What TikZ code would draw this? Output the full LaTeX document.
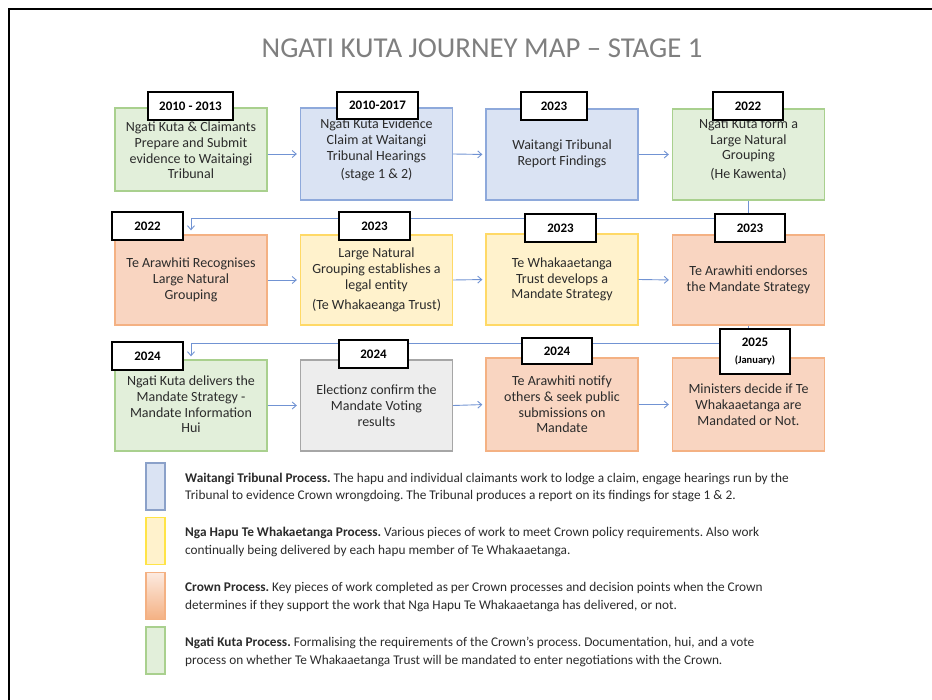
\documentclass[tikz,border=0pt]{standalone}
\usepackage{fontspec}
\setmainfont{Carlito}
\usetikzlibrary{arrows.meta}
\frenchspacing
\definecolor{gfill}{HTML}{E2EFDA}
\definecolor{gline}{HTML}{A9D08E}
\definecolor{bfill}{HTML}{DAE3F3}
\definecolor{bline}{HTML}{8EA9DB}
\definecolor{yfill}{HTML}{FFF2CC}
\definecolor{yline}{HTML}{FFD966}
\definecolor{ofill}{HTML}{F9D5C1}
\definecolor{oline}{HTML}{F4B183}
\definecolor{grfill}{HTML}{EDEDED}
\definecolor{grline}{HTML}{A6A6A6}
\definecolor{conncol}{HTML}{7193D3}
\definecolor{txt}{HTML}{2B2B2B}
\definecolor{titlecol}{HTML}{7F7F7F}
\begin{document}
\begin{tikzpicture}[x=1pt,y=1pt,
  mainbox/.style={rectangle, line width=1.3pt, inner sep=0pt, minimum width=152pt},
  boxtext/.style={align=center, text=txt, font=\fontsize{14}{15.7}\selectfont, inner sep=0pt},
  yr/.style={rectangle, draw=black, fill=white, line width=1.1pt, inner sep=0pt, align=center,
    font=\fontsize{13}{14}\selectfont\bfseries, text=black},
  conn/.style={draw=conncol, line width=0.9pt, -{Straight Barb[length=4pt,width=7pt]}},
  swatch/.style={rectangle, line width=1.2pt, inner sep=0pt, minimum width=19pt, minimum height=47pt},
  legtext/.style={anchor=west, align=left, text=txt, font=\fontsize{13.3}{17.5}\selectfont, inner sep=0pt}
]
\useasboundingbox (0,0) rectangle (932,-700);
% frame
\draw[line width=2.6pt, line cap=rect] (9,-701) -- (9,-9) -- (933,-9);
% title
\node[text=titlecol, font=\fontsize{28.8}{32}\selectfont, inner sep=0pt] (title) at (482,-48) {NGATI KUTA JOURNEY MAP -- STAGE 1};

% row 1
\node[mainbox, draw=gline, fill=gfill, minimum height=83pt] (b11) at (191,-149.5) {};
\node[mainbox, draw=bline, fill=bfill, minimum height=92pt] (b12) at (376.5,-154) {};
\node[mainbox, draw=bline, fill=bfill, minimum height=91pt] (b13) at (562,-154.5) {};
\node[mainbox, draw=gline, fill=gfill, minimum height=91pt] (b14) at (748.5,-154.5) {};
% row 2
\node[mainbox, draw=oline, fill=ofill, minimum height=90pt] (b21) at (191,-280) {};
\node[mainbox, draw=yline, fill=yfill, minimum height=90pt] (b22) at (376.5,-280) {};
\node[mainbox, draw=yline, fill=yfill, minimum height=91pt] (b23) at (562,-279.5) {};
\node[mainbox, draw=oline, fill=ofill, minimum height=90pt] (b24) at (748.5,-280) {};
% row 3
\node[mainbox, draw=gline, fill=gfill, minimum height=91pt] (b31) at (191,-405.5) {};
\node[mainbox, draw=grline, fill=grfill, minimum height=91pt] (b32) at (376.5,-405.5) {};
\node[mainbox, draw=oline, fill=ofill, minimum height=93pt] (b33) at (562,-404.5) {};
\node[mainbox, draw=oline, fill=ofill, minimum height=93pt] (b34) at (748.5,-404.5) {};

% texts
\node[boxtext] (t11) at ([yshift=-1pt]b11.center) {Ngati Kuta \& Claimants\\Prepare and Submit\\evidence to Waitaingi\\Tribunal};
\node[boxtext] (t12) at ([yshift=4pt]b12.center) {Ngati Kuta Evidence\\Claim at Waitangi\\Tribunal Hearings\\[3pt](stage 1 \& 2)};
\node[boxtext] (t13) at ([yshift=1pt]b13.center) {Waitangi Tribunal\\Report Findings};
\node[boxtext] (t14) at ([yshift=5pt]b14.center) {Ngati Kuta form a\\Large Natural\\Grouping\\[3pt](He Kawenta)};
\node[boxtext] (t21) at (b21.center) {Te Arawhiti Recognises\\Large Natural\\Grouping};
\node[boxtext] (t22) at (b22.center) {Large Natural\\Grouping establishes a\\legal entity\\[5pt](Te Whakaeanga Trust)};
\node[boxtext] (t23) at (b23.center) {Te Whakaaetanga\\Trust develops a\\Mandate Strategy};
\node[boxtext] (t24) at (b24.center) {Te Arawhiti endorses\\the Mandate Strategy};
\node[boxtext] (t31) at ([yshift=1pt]b31.center) {Ngati Kuta delivers the\\Mandate Strategy -\\Mandate Information\\Hui};
\node[boxtext] (t32) at (b32.center) {Electionz confirm the\\Mandate Voting\\results};
\node[boxtext] (t33) at (b33.center) {Te Arawhiti notify\\others \& seek public\\submissions on\\Mandate};
\node[boxtext] (t34) at (b34.center) {Ministers decide if Te\\Whakaaetanga are\\Mandated or Not.};

% connectors in rows
\draw[conn, shorten >=3pt] (b11.east |- b12.west) -- (b12.west);
\draw[conn, shorten >=3pt] (b12.east) -- (b13.west);
\draw[conn, shorten >=3pt] (b13.east) -- (b14.west);
\draw[conn, shorten >=3pt] (b21.east) -- (b22.west);
\draw[conn, shorten >=3pt] (b22.east) -- (b23.west);
\draw[conn, shorten >=3pt] (b23.east) -- (b24.west);
\draw[conn, shorten >=3pt] (b31.east) -- (b32.west);
\draw[conn, shorten >=3pt] (b32.east) -- (b33.west);
\draw[conn, shorten >=3pt] (b33.east) -- (b34.west);
% row transitions
\coordinate (j1) at (748.5,-218);
\coordinate (j2) at (748.5,-343);
\draw[conn, shorten >=4pt] (b14.south) -- (j1) -| (b21.north);
\draw[conn, shorten >=3pt] (b24.south) -- (j2) -| (b31.north);

% year boxes
\node[yr, minimum width=85pt, minimum height=28pt] (y11) at (190.5,-106) {2010 - 2013};
\node[yr, minimum width=81pt, minimum height=27pt] (y12) at (377.5,-105.5) {2010-2017};
\node[yr, minimum width=66pt, minimum height=28pt] (y13) at (554,-106) {2023};
\node[yr, minimum width=70pt, minimum height=28pt] (y14) at (748,-106) {2022};
\node[yr, minimum width=71pt, minimum height=28pt] (y21) at (147.5,-226) {2022};
\node[yr, minimum width=71pt, minimum height=28pt] (y22) at (374.5,-226) {2023};
\node[yr, minimum width=71pt, minimum height=28pt] (y23) at (560.5,-228) {2023};
\node[yr, minimum width=70pt, minimum height=28pt] (y24) at (750,-228) {2023};
\node[yr, minimum width=71pt, minimum height=28pt] (y31) at (147.5,-356) {2024};
\node[yr, minimum width=69pt, minimum height=28pt] (y32) at (373.5,-354) {2024};
\node[yr, minimum width=70pt, minimum height=26pt] (y33) at (557,-351) {2024};
\node[yr, minimum width=70pt, minimum height=45pt, font=\fontsize{13}{17}\selectfont\bfseries] (y34) at (755,-351.5) {2025\\{\fontsize{10.5}{12}\selectfont(January)}};

% legend
\node[swatch, draw=bline!80!gray, fill=bfill] (s1) at (155.5,-486.5) {};
\node[swatch, draw=yline!70!yellow, fill=yfill] (s2) at (155.5,-541) {};
\node[swatch, draw=oline, top color=ofill!50!white, bottom color=oline] (s3) at (155.5,-596) {};
\node[swatch, draw=gline, fill=gfill] (s4) at (155.5,-650.5) {};
\node[legtext] (l1) at (185,-487.5) {\textbf{Waitangi Tribunal Process.} The hapu and individual claimants work to lodge a claim, engage hearings run by the\\Tribunal to evidence Crown wrongdoing. The Tribunal produces a report on its findings for stage 1 \& 2.};
\node[legtext] (l2) at (185,-542) {\textbf{Nga Hapu Te Whakaetanga Process.} Various pieces of work to meet Crown policy requirements. Also work\\continually being delivered by each hapu member of Te Whakaaetanga.};
\node[legtext] (l3) at (185,-597) {\textbf{Crown Process.} Key pieces of work completed as per Crown processes and decision points when the Crown\\determines if they support the work that Nga Hapu Te Whakaaetanga has delivered, or not.};
\node[legtext] (l4) at (185,-652) {\textbf{Ngati Kuta Process.} Formalising the requirements of the Crown's process. Documentation, hui, and a vote\\process on whether Te Whakaaetanga Trust will be mandated to enter negotiations with the Crown.};
\end{tikzpicture}
\end{document}
